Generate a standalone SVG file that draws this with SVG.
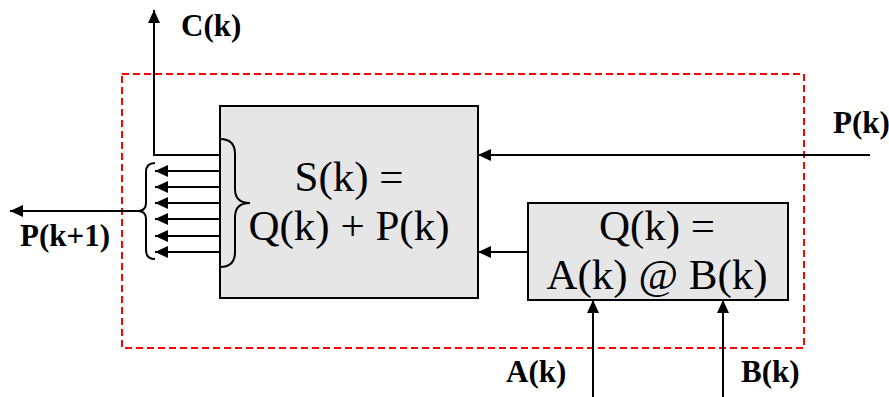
<svg xmlns="http://www.w3.org/2000/svg" width="889" height="397" viewBox="0 0 889 397">
  <style>
    .box { fill: #e6e6e6; stroke: #000; stroke-width: 2; }
    .wire { fill: none; stroke: #000; stroke-width: 2; }
    .frame { fill: none; stroke: #ff0000; stroke-width: 2; stroke-dasharray: 7 4; }
    .lbl { font-family: "Liberation Serif", "Times New Roman", serif; font-weight: bold; font-size: 31px; fill: #000; }
    .eq { font-family: "Liberation Serif", "Times New Roman", serif; font-size: 43px; fill: #000; text-anchor: middle; }
  </style>
  <defs>
    <marker id="arrow" markerUnits="userSpaceOnUse" markerWidth="14" markerHeight="12" refX="13" refY="6" orient="auto">
      <path d="M0,0 L13,6 L0,12 Z" fill="#000"/>
    </marker>
  </defs>

  <!-- enclosing dashed boundary -->
  <rect class="frame" x="122" y="74" width="682" height="274"/>

  <g id="sum-block">
    <rect class="box" x="220" y="106" width="258" height="192"/>
    <text class="eq" x="349" y="191">S(k) =</text>
    <text class="eq" x="349" y="240">Q(k) + P(k)</text>
    <path class="wire" d="M220,139 Q235,139 235,154 L235,189 Q235,203 250,203 Q235,203 235,217 L235,252 Q235,267 220,267"/>
  </g>

  <g id="product-block">
    <rect class="box" x="528" y="203" width="260" height="97"/>
    <text class="eq" x="657" y="240">Q(k) =</text>
    <text class="eq" x="657" y="289">A(k) @ B(k)</text>
  </g>

  <g id="connectors">
    <!-- carry-out to the top -->
    <path class="wire" d="M220,155 L154,155 L154,10" marker-end="url(#arrow)"/>
    <!-- output bits -->
    <line class="wire" x1="220" y1="171" x2="155" y2="171" marker-end="url(#arrow)"/>
    <line class="wire" x1="220" y1="187" x2="155" y2="187" marker-end="url(#arrow)"/>
    <line class="wire" x1="220" y1="203" x2="155" y2="203" marker-end="url(#arrow)"/>
    <line class="wire" x1="220" y1="219" x2="155" y2="219" marker-end="url(#arrow)"/>
    <line class="wire" x1="220" y1="236" x2="155" y2="236" marker-end="url(#arrow)"/>
    <line class="wire" x1="220" y1="252" x2="155" y2="252" marker-end="url(#arrow)"/>
    <!-- bit group brace and combined output -->
    <path class="wire" d="M155,163 Q146,163 146,172 L146,203 Q146,211 138,211 Q146,211 146,219 L146,250 Q146,259 155,259"/>
    <line class="wire" x1="138" y1="211" x2="10" y2="211" marker-end="url(#arrow)"/>
    <!-- P(k) input -->
    <line class="wire" x1="870" y1="155" x2="478" y2="155" marker-end="url(#arrow)"/>
    <!-- Q(k) into the adder -->
    <line class="wire" x1="528" y1="252" x2="478" y2="252" marker-end="url(#arrow)"/>
    <!-- A(k), B(k) inputs -->
    <line class="wire" x1="593" y1="397" x2="593" y2="300" marker-end="url(#arrow)"/>
    <line class="wire" x1="723" y1="397" x2="723" y2="300" marker-end="url(#arrow)"/>
  </g>

  <g id="labels">
    <text class="lbl" x="181" y="36">C(k)</text>
    <text class="lbl" x="20" y="246">P(k+1)</text>
    <text class="lbl" x="833" y="133">P(k)</text>
    <text class="lbl" x="506" y="382">A(k)</text>
    <text class="lbl" x="741" y="382">B(k)</text>
  </g>
</svg>
